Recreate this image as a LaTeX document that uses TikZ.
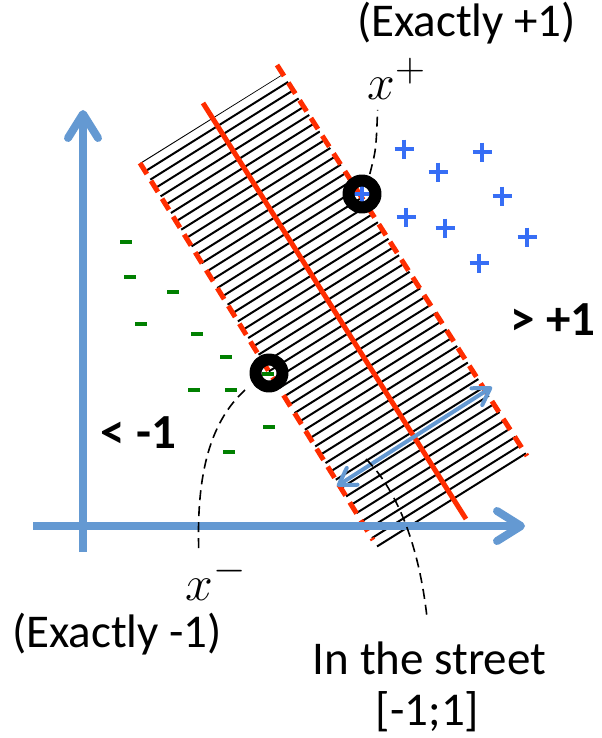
\documentclass[tikz,border=0pt]{standalone}
\usepackage{fontspec}
\setmainfont{Carlito}
\usetikzlibrary{arrows.meta}
\definecolor{axisblue}{RGB}{100,153,210}
\definecolor{streetred}{RGB}{255,45,0}
\definecolor{plusblue}{RGB}{55,110,245}
\definecolor{minusgreen}{RGB}{0,128,0}
\tikzset{
  axisline/.style={axisblue,line width=4pt,-{Straight Barb[round,length=12pt,width=15pt]}},
  widtharrow/.style={axisblue,line width=2pt,{Straight Barb[round,length=8pt,width=10pt]}-{Straight Barb[round,length=8pt,width=10pt]}},
  margin/.style={streetred,line width=2.5pt,dash pattern=on 6.5pt off 4pt},
  boundary/.style={streetred,line width=2.5pt},
  hatch/.style={black,line width=1pt},
  plusmark/.style={plusblue,line width=2pt},
  minusmark/.style={minusgreen,line width=2pt},
  ring/.style={circle,draw=black,line width=6pt,minimum size=13.5pt,inner sep=0pt},
  leader/.style={black,line width=0.8pt,dash pattern=on 5pt off 3pt},
  lbl/.style={font=\fontsize{23.5pt}{25.5pt}\selectfont,inner sep=1pt},
  boldlbl/.style={font=\fontsize{24.5pt}{29pt}\selectfont\bfseries,inner sep=1pt},
  mathlbl/.style={font=\fontsize{28pt}{33pt}\selectfont,inner sep=0pt}
}
\begin{document}
\begin{tikzpicture}[x=0.5pt,y=-0.5pt,line join=round]
\useasboundingbox (0,0) rectangle (601,738);
\path
(83,552) coordinate (Ybot)
(83,110) coordinate (Ytop)
(33,526) coordinate (Xleft)
(525,526) coordinate (Xright)
(140,163) coordinate (L1) (373,540) coordinate (L2)
(277,65) coordinate (R1) (527,456) coordinate (R2)
(203,103) coordinate (C1) (466,519) coordinate (C2)
(337,486) coordinate (W1) (492,387) coordinate (W2)
(366,459) coordinate (streetpt)
;
\begin{scope}
\clip (140,163) -- (283,74) -- (527,455) -- (378,548) -- cycle;
\foreach \s in {0,9.8,...,455}
  \draw[hatch] ({140+0.53*\s-8.5},{163+0.848*\s+5.3}) -- ({140+0.53*\s+156.9},{163+0.848*\s-98.1});
\end{scope}
\draw[margin] (L1) -- (L2);
\draw[margin] (R1) -- (R2);
\draw[boundary] (C1) -- (C2);
\foreach \x/\y in {404/149, 482/152, 438/172, 502/196, 406/217, 445/228, 527/237, 479/263, 362/194}
  \draw[plusmark] (\x-9.5,\y) -- (\x+9.5,\y) (\x,\y-9.5) -- (\x,\y+9.5);
\foreach \x/\y in {126/242, 130/277, 173/292, 141/324, 197/334, 226/357, 194/390, 231/390, 269/427, 229/452, 268/374}
  \draw[minusmark] (\x-6,\y) -- (\x+6,\y);
\node[ring] (xpring) at (362,194) {};
\node[ring] (xmring) at (269,373) {};
\draw[widtharrow] (W1) -- (W2);
\draw[axisline] (Ybot) -- (Ytop);
\draw[axisline] (Xleft) -- (Xright);
\node[lbl,inner sep=0pt,anchor=base] (exactp) at (466.5,37) {(Exactly +1)};
\node[mathlbl,anchor=base west] (xplbl) at (367,99.5) {$x^+$};
\node[mathlbl,anchor=base west] (xmlbl) at (185,600) {$x^-$};
\node[lbl,anchor=base] (exactm) at (117,647) {(Exactly -1)};
\node[lbl,anchor=base] (streetlbl) at (429.5,674) {In the street};
\node[lbl,anchor=base] (rangelbl) at (427.5,725) {[-1;1]};
\node[boldlbl,anchor=base] (ltm) at (138.5,448) {< -1};
\node[boldlbl,anchor=base] (gtp) at (553,335) {> +1};
\draw[leader,shorten <=1pt,shorten >=5pt] (xpring.68) .. controls (376,150) .. ([xshift=5.5pt]xplbl.south west);
\draw[leader,shorten <=5pt,shorten >=3pt] (xmring.212) .. controls (212,420) and (196,470) .. ([xshift=7pt]xmlbl.north west);
\draw[leader,shorten >=12pt] (streetpt) .. controls (395,488) and (418,540) .. (streetlbl.north);
\end{tikzpicture}
\end{document}
